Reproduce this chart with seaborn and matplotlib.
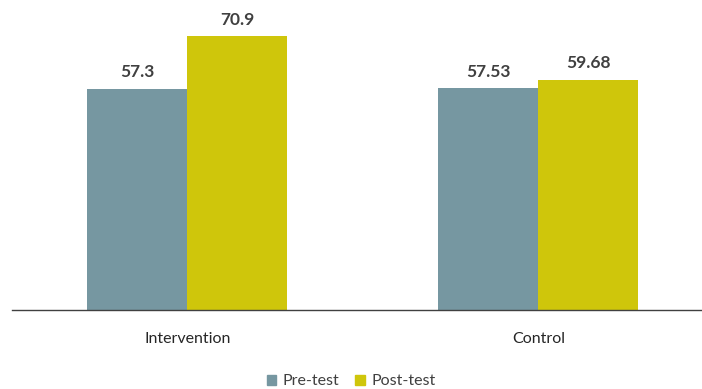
import pandas as pd
import matplotlib.pyplot as plt
import seaborn as sns

# dados
grupos = ['Intervention', 'Control']
pre_test = [57.3, 57.53]
post_test = [70.9, 59.68]
rotulos = ['57.3', '70.9', '57.53', '59.68']

df = pd.DataFrame({
    'Grupo': grupos * 2,
    'Teste': ['Pre-test'] * 2 + ['Post-test'] * 2,
    'Valor': pre_test + post_test,
})

sns.set_style('white')
plt.rcParams['font.family'] = ['Lato', 'DejaVu Sans']

fig = plt.figure(figsize=(7.02, 3.89), dpi=100)
ax = fig.add_axes([0.017, 0.203, 1.0, 0.794])

cores = {'Pre-test': '#7697a1', 'Post-test': '#cfc60b'}
sns.barplot(data=df, x='Grupo', y='Valor', hue='Teste', palette=cores,
            width=0.57, gap=0, saturation=1, linewidth=0, ax=ax, legend=False)

# rotulos nas barras
for cont, labels in zip(ax.containers, [[rotulos[0], rotulos[2]], [rotulos[1], rotulos[3]]]):
    ax.bar_label(cont, labels=labels, padding=6, fontsize=12.5, fontweight='bold', color='#404040')

ax.set_ylim(0, 80)
ax.set_xlim(-0.5, 1.5)
ax.set_xlabel('')
ax.set_ylabel('')
ax.set_yticks([])
ax.tick_params(axis='x', length=0, pad=16, labelsize=11.5, labelcolor='#262626')
for s in ['top', 'right', 'left']:
    ax.spines[s].set_visible(False)
ax.spines['bottom'].set_color('#404040')
ax.spines['bottom'].set_linewidth(1)

handles = [plt.Rectangle((0, 0), 1, 1, color=cores[k]) for k in ['Pre-test', 'Post-test']]
fig.legend(handles, ['Pre-test', 'Post-test'], loc='lower center', ncol=2, frameon=False,
           bbox_to_anchor=(0.5, -0.035), fontsize=11.5, handlelength=0.6, handleheight=0.6,
           handletextpad=0.4, columnspacing=1.0, labelcolor='#404040')

plt.savefig('out.png', dpi=100)
